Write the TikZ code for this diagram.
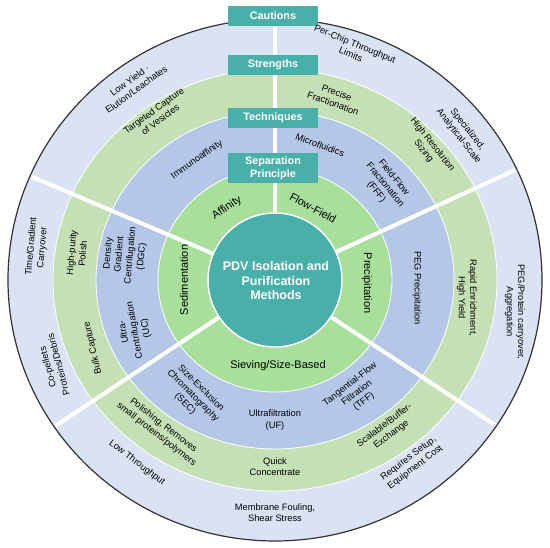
\documentclass[tikz,border=0pt]{standalone}
\usepackage{fontspec}
\setmainfont{Liberation Sans}
\usetikzlibrary{positioning}
\definecolor{pdvteal}{RGB}{72,176,168}
\definecolor{sepgreen}{RGB}{168,224,155}
\definecolor{techblue}{RGB}{180,199,231}
\definecolor{strgreen}{RGB}{197,224,180}
\definecolor{cautblue}{RGB}{218,227,243}

\begin{document}
\begin{tikzpicture}[x=1pt, y=1pt,
  ring/.style={draw=white, line width=0.8pt},
  lbl/.style={font=\fontsize{9.3}{11.2}\selectfont, align=center, inner sep=1pt},
  seplbl/.style={font=\fontsize{11}{13}\selectfont, inner sep=1pt},
  hdr/.style={fill=pdvteal, text=white, font=\bfseries\fontsize{10.8}{13}\selectfont,
              minimum width=90pt, minimum height=20pt, align=center, inner sep=1pt},
  divider/.style={white, line width=4pt}]
  \useasboundingbox (-275,-268) rectangle (275,280);

  % Rings, outside in
  \filldraw[fill=cautblue, draw=black!80, line width=1.2pt] (0,0) ellipse [x radius=267, y radius=261];
  \filldraw[ring, fill=strgreen] (0,0) ellipse [x radius=222, y radius=211];
  \filldraw[ring, fill=techblue] (0,0) ellipse [x radius=179, y radius=169];
  \filldraw[ring, fill=sepgreen] (0,0) ellipse [x radius=117, y radius=112];
  \filldraw[draw=white, line width=1.5pt, fill=pdvteal] (0,0) circle (67);

  % Sector dividers
  \foreach \a in {90, 157, 24.6, -33.4, -146.4}
    \draw[divider] (\a:68) -- (\a:264);

  % Central node
  \node[text=white, font=\bfseries\fontsize{12.5}{14.5}\selectfont, align=center] (title) at (1,-1)
    {PDV Isolation and\\Purification\\Methods};

  % Ring headers
  \node[hdr] (caut) at (-2,264) {Cautions};
  \node[hdr] (str) at (-2,215) {Strengths};
  \node[hdr] (tech) at (-2,162) {Techniques};
  \node[hdr, minimum height=30pt] (sep) at (-2,112) {Separation\\Principle};

  % Separation principle
  \node[seplbl, rotate=34] (aff) at (-48,72) {Affinity};
  \node[seplbl, rotate=-28] (flow) at (38,72) {Flow-Field};
  \node[seplbl, rotate=-90] (prec) at (92,-3) {Precipitation};
  \node[seplbl, rotate=90] (sedi) at (-91,0) {Sedimentation};
  \node[seplbl] (siev) at (3,-86) {Sieving/Size-Based};

  % Techniques
  \node[lbl, rotate=35] (immu) at (-78,120) {Immunoaffinity};
  \node[lbl, rotate=-20] (micro) at (45,135) {Microfluidics};
  \node[lbl, rotate=-51] (fff) at (110,95) {Field-Flow\\Fractionation\\(FFF)};
  \node[lbl, rotate=-90] (peg) at (142,-8) {PEG Precipitation};
  \node[lbl, rotate=85] (dgc) at (-150,25) {Density\\Gradient\\Centrifugation\\(DGC)};
  \node[lbl, rotate=100] (uc) at (-140,-50) {Ultra-\\Centrifugation\\(UC)};
  \node[lbl, rotate=-45] (sec) at (-82,-116) {Size-Exclusion\\Chromatography\\(SEC)};
  \node[lbl] (uf) at (0,-140) {Ultrafiltration\\(UF)};
  \node[lbl, rotate=38] (tff) at (82,-113) {Tangential-Flow\\Filtration\\(TFF)};

  % Strengths
  \node[lbl, rotate=36] (targ) at (-118,165) {Targeted Capture\\of Vesicles};
  \node[lbl, rotate=-20] (frac) at (60,182) {Precise\\Fractionation};
  \node[lbl, rotate=-52] (hres) at (153,132) {High Resolution\\Sizing};
  \node[lbl, rotate=-90] (rapid) at (192,-18) {Rapid Enrichment,\\High Yield};
  \node[lbl, rotate=85] (hpur) at (-198,27) {High-purity\\Polish};
  \node[lbl, rotate=103] (bulk) at (-182,-68) {Bulk Capture};
  \node[lbl, rotate=-38] (pol) at (-115,-150) {Polishing, Removes\\small proteins/polymers};
  \node[lbl] (quick) at (0,-187) {Quick\\Concentrate};
  \node[lbl, rotate=37] (scal) at (113,-150) {Scalable/Buffer-\\Exchange};

  % Cautions
  \node[lbl, rotate=36] (lowy) at (-142,195) {Low Yield ·\\Elution/Leachates};
  \node[lbl, rotate=-22] (chip) at (78,231) {Per-Chip Throughput\\Limits};
  \node[lbl, rotate=-52] (spec) at (188,147) {Specialized,\\Analytical-Scale};
  \node[lbl, rotate=-90] (carry) at (240,-32) {PEG/Protein carryover,\\Aggregation};
  \node[lbl, rotate=85] (time) at (-238,33) {Time/Gradient\\Carryover};
  \node[lbl, rotate=105] (copel) at (-222,-86) {Co-pellets\\Proteins/Debris};
  \node[lbl, rotate=-37] (lowt) at (-138,-183) {Low Throughput};
  \node[lbl] (foul) at (0,-233) {Membrane Fouling,\\Shear Stress};
  \node[lbl, rotate=37] (setup) at (137,-183) {Requires Setup,\\Equipment Cost};
\end{tikzpicture}
\end{document}
